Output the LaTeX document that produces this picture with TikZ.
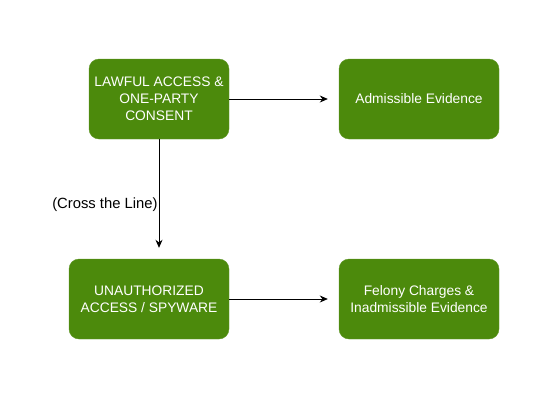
\documentclass[tikz,border=0pt]{standalone}
\usepackage{fontspec}
\setmainfont{Liberation Sans}
\usetikzlibrary{arrows.meta}
\definecolor{boxgreen}{HTML}{4C8A0C}
\tikzset{
  px/.style={x=1pt,y=-1pt},
  box/.style={draw=boxgreen!90!white, fill=boxgreen, rounded corners=10pt,
    text=white, font=\fontsize{13.8}{17}\selectfont, align=center,
    minimum height=80pt, inner sep=0pt},
  conn/.style={draw=black, line width=0.8pt, -{Stealth[length=8pt,width=7pt]}, shorten >=11pt},
  lbl/.style={font=\fontsize{14.8}{17}\selectfont, text=black, inner sep=1pt}
}
\begin{document}
\begin{tikzpicture}[px]
\useasboundingbox (0,0) rectangle (550,400);
\node[box, minimum width=140pt] (lawful) at (159,99) {LAWFUL ACCESS \&\\ONE-PARTY\\CONSENT};
\node[box, minimum width=160pt] (admiss) at (419,99) {Admissible Evidence};
\node[box, minimum width=160pt] (unauth) at (149,299) {UNAUTHORIZED\\ACCESS / SPYWARE};
\node[box, minimum width=160pt] (felony) at (419,299) {Felony Charges \&\\Inadmissible Evidence};
\draw[conn] (lawful.east) -- (admiss.west);
\draw[conn] (unauth.east) -- (felony.west);
\draw[conn] (lawful.south) -- (lawful.south |- unauth.north)
  node[lbl, pos=0.55, anchor=east] {(Cross the Line)};
\end{tikzpicture}
\end{document}
